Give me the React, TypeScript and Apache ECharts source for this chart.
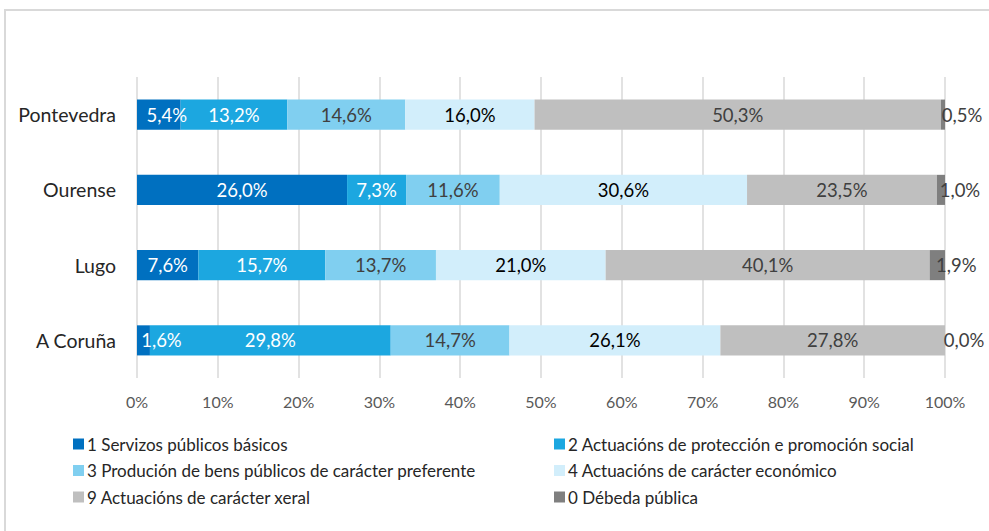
import React, { useEffect, useRef } from "react";
import * as echarts from "echarts";

const categories = ["A Coruña", "Lugo", "Ourense", "Pontevedra"];
const seriesNames = [
  "1 Servizos públicos básicos",
  "2 Actuacións de protección e promoción social",
  "3 Produción de bens públicos de carácter preferente",
  "4 Actuacións de carácter económico",
  "9 Actuacións de carácter xeral",
  "0 Débeda pública",
];
const s1 = [1.6, 7.6, 26.0, 5.4];
const s2 = [29.8, 15.7, 7.3, 13.2];
const s3 = [14.7, 13.7, 11.6, 14.6];
const s4 = [26.1, 21.0, 30.6, 16.0];
const s9 = [27.8, 40.1, 23.5, 50.3];
const s0 = [0.0, 1.9, 1.0, 0.5];
const xTicks = [0, 10, 20, 30, 40, 50, 60, 70, 80, 90, 100];

const seriesValues = [s1, s2, s3, s4, s9, s0];
const colors = ["#0070C0", "#1CA7E0", "#80CFF0", "#D2EEFB", "#BFBFBF", "#7F7F7F"];
const labelColors = ["#FFFFFF", "#FFFFFF", "#404040", "#000000", "#404040", "#404040"];
const FONT = "Lato, 'Open Sans', sans-serif";

export default function App() {
  const ref = useRef<HTMLDivElement>(null);
  useEffect(() => {
    document.body.style.margin = "0";
    if (!ref.current) return;
    const chart = echarts.init(ref.current, null, { renderer: "svg" });
    const fmt = (v: number) => v.toFixed(1).replace(".", ",") + "%";
    const series = seriesValues.map((vals, si) => ({
      name: seriesNames[si],
      type: "bar",
      stack: "total",
      barWidth: "40%",
      itemStyle: { color: colors[si] },
      label: {
        show: true,
        position: "inside",
        color: labelColors[si],
        fontFamily: FONT,
        fontSize: 18.5,
        formatter: (p: any) => fmt(p.value),
        offset: si === 5 ? [19, 0] : [0, 0],
      },
      data: vals.map((v) => {
        if (si === 0 && v < 3) {
          return { value: v, label: { offset: [18, 0] } };
        }
        if (si === 0 && v < 6) {
          return { value: v, label: { offset: [8, 0] } };
        }
        return v;
      }),
    }));
    const legendCol = (names: string[], left: number) => ({
      data: names,
      orient: "vertical",
      left,
      top: 429,
      itemGap: 6.5,
      itemWidth: 11,
      itemHeight: 11,
      icon: "rect",
      textStyle: {
        fontFamily: FONT,
        fontSize: 17,
        lineHeight: 20,
        color: "#262626",
        padding: [0, 0, 0, -2],
      },
    });
    chart.setOption({
      animation: false,
      backgroundColor: "#FFFFFF",
      grid: { left: 137, right: 44, top: 77, bottom: 153 },
      xAxis: {
        type: "value",
        min: 0,
        max: 100,
        interval: 10,
        axisLine: { show: false },
        axisTick: { show: false },
        splitLine: { lineStyle: { color: "#D9D9D9", width: 1.5 } },
        axisLabel: {
          margin: 15,
          fontFamily: FONT,
          fontSize: 16,
          color: "#595959",
          formatter: (v: number) => (xTicks.includes(v) ? v + "%" : ""),
        },
      },
      yAxis: {
        type: "category",
        data: categories,
        axisLine: { show: false },
        axisTick: { show: false },
        axisLabel: { margin: 21, fontFamily: FONT, fontSize: 19.5, color: "#262626" },
      },
      legend: [
        legendCol([seriesNames[0], seriesNames[2], seriesNames[4]], 68),
        legendCol([seriesNames[1], seriesNames[3], seriesNames[5]], 549),
      ],
      graphic: [
        {
          type: "rect",
          shape: { x: 5, y: 10, width: 1100, height: 700 },
          style: { fill: "none", stroke: "#D9D9D9", lineWidth: 2 },
          silent: true,
        },
      ],
      series,
    });
    return () => chart.dispose();
  }, []);
  return <div ref={ref} style={{ width: 989, height: 531 }} />;
}
